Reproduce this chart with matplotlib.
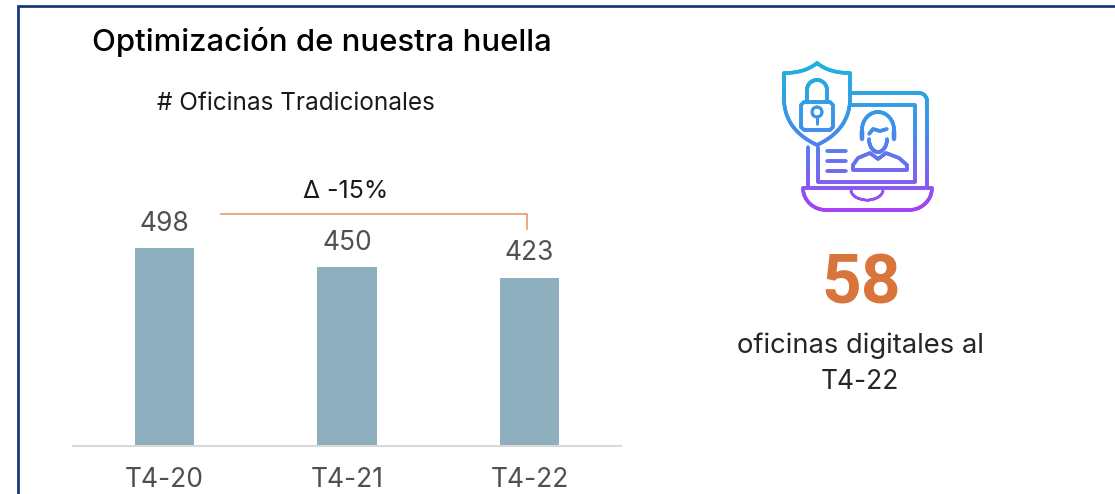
import numpy as np
import matplotlib
matplotlib.use("Agg")
import matplotlib.pyplot as plt
from matplotlib.collections import LineCollection

# DATA
periods = ["T4-20", "T4-21", "T4-22"]
offices = [498, 450, 423]
digital_offices = 58

W, H = 1115, 494
plt.rcParams['font.family'] = ['Inter', 'DejaVu Sans']


def arc(cx, cy, rx, ry, a0, a1, n=40):
    t = np.radians(np.linspace(a0, a1, n))
    return list(cx + rx * np.cos(t)), list(cy + ry * np.sin(t))


def bez(p0, c, p1, n=24):
    t = np.linspace(0, 1, n)
    x = (1 - t)**2 * p0[0] + 2 * t * (1 - t) * c[0] + t**2 * p1[0]
    y = (1 - t)**2 * p0[1] + 2 * t * (1 - t) * c[1] + t**2 * p1[1]
    return list(x), list(y)


def stroke(ax, xs, ys, lw=2.6):
    # vertical gradient blue -> purple, same as the icon in the slide
    xs = np.asarray(xs, float); ys = np.asarray(ys, float)
    px, py = [], []
    for i in range(len(xs) - 1):
        steps = max(2, int(np.hypot(xs[i+1] - xs[i], ys[i+1] - ys[i])) + 1)
        px += list(np.linspace(xs[i], xs[i+1], steps, endpoint=False))
        py += list(np.linspace(ys[i], ys[i+1], steps, endpoint=False))
    px.append(xs[-1]); py.append(ys[-1])
    pts = np.column_stack([px, py])
    segs = np.stack([pts[:-1], pts[1:]], axis=1)
    top = np.array([0.12, 0.70, 0.86]); mid = np.array([0.25, 0.56, 0.92]); bot = np.array([0.66, 0.25, 0.96])
    cols = []
    for y in (pts[:-1, 1] + pts[1:, 1]) / 2:
        f = np.clip((y - 63) / (212 - 63), 0, 1)
        cols.append(top + (mid - top) * f / 0.45 if f < 0.45 else mid + (bot - mid) * (f - 0.45) / 0.55)
    ax.add_collection(LineCollection(segs, colors=cols, linewidths=lw, capstyle='round', alpha=0.9))


def draw_icon(ax):
    # shield outline
    lx, ly = bez((784, 100), (785, 130), (817, 145))
    rx, ry = bez((817, 145), (849, 130), (850, 100))
    stroke(ax, [784] + lx + rx + [850], [73] + ly + ry + [73])
    tl_x, tl_y = bez((784, 73), (805, 73), (817, 63))
    tr_x, tr_y = bez((817, 63), (829, 73), (850, 73))
    stroke(ax, tl_x + tr_x, tl_y + tr_y)
    # padlock
    stroke(ax, [804, 830, 833, 833, 830, 804, 801, 801, 804], [102, 102, 105, 127, 130, 130, 127, 105, 102])
    sh_x, sh_y = arc(817, 90, 10, 10, 180, 360)
    stroke(ax, [807] + sh_x + [827], [102] + sh_y + [102])
    kx, ky = arc(817, 112, 5, 5, 0, 360)
    stroke(ax, kx, ky, lw=2.0)
    stroke(ax, [817, 817], [117, 124], lw=2.0)
    # laptop
    cx, cy = arc(919, 101, 8, 8, -90, 0, 12)
    stroke(ax, [851] + cx + [927, 927], [93] + cy + [101, 187])
    stroke(ax, [808, 808], [147, 187])
    stroke(ax, [851, 915, 915, 818, 818], [105, 105, 182, 182, 147])
    bl_x, bl_y = arc(826, 188, 23, 22, 180, 90, 14)
    br_x, br_y = arc(909, 188, 23, 22, 90, 0, 14)
    stroke(ax, [803] + bl_x + br_x + [932, 803], [188] + bl_y + br_y + [188, 188])
    n_x, n_y = arc(867, 190, 16, 10, 180, 0, 20)
    stroke(ax, n_x, n_y, lw=2.0)
    # text lines on the screen
    for y in [151, 161, 171]:
        stroke(ax, [827, 846], [y, y])
    # person
    hx, hy = arc(878, 130, 16, 18, 180, 360)
    stroke(ax, hx, hy)
    stroke(ax, [862, 862], [131, 139], lw=3.2)
    stroke(ax, [894, 894], [131, 139], lw=3.2)
    stroke(ax, [869, 873, 880, 887], [134, 129, 131, 129])
    fx, fy = arc(878, 139, 9, 13, 0, 180)
    stroke(ax, fx, fy)
    stroke(ax, [853, 853, 858, 870, 878, 886, 899, 907, 907, 853],
           [170, 165, 158, 153, 159, 153, 158, 165, 170, 170])


fig = plt.figure(figsize=(W / 100, H / 100), dpi=100, facecolor='white')

# bars, axes placed by the pixel box of the original plot area
ax = fig.add_axes([73 / W, 1 - 446 / H, (621 - 73) / W, 223 / H])
ax.bar(range(len(offices)), offices, width=0.323, color='#8eafbe')
ax.set_xlim(-0.5, 2.5); ax.set_ylim(0, 560)
ax.set_yticks([])
ax.set_xticks(range(len(periods)))
ax.set_xticklabels(periods, fontsize=19, color='#505050')
ax.tick_params(axis='x', length=0, pad=15)
for s in ['top', 'right', 'left']:
    ax.spines[s].set_visible(False)
ax.spines['bottom'].set_color('#d9d9d9'); ax.spines['bottom'].set_linewidth(1.5)
for i, v in enumerate(offices):
    ax.annotate(str(v), (i, v), xytext=(0, 8), textcoords='offset points', ha='center', va='bottom',
                fontsize=19, color='#505050')

# overlay in pixel coords for border, bracket, icon and texts
ov = fig.add_axes([0, 0, 1, 1], facecolor='none')
ov.set_xlim(0, W); ov.set_ylim(H, 0); ov.axis('off')
ov.plot([18, 18, W], [H, 6.5, 6.5], color='#1a3a7c', lw=2.0, solid_joinstyle='miter')
ov.plot([221, 527, 527], [214, 214, 229], color='#e89a70', lw=1.2)
draw_icon(ov)

ov.text(322, 42, "Optimización de nuestra huella", ha='center', va='center', fontsize=22.4, fontweight='medium', color='black')
ov.text(296, 103, "# Oficinas Tradicionales", ha='center', va='center', fontsize=17.5, color='#1a1a1a')
ov.text(346, 191, "Δ -15%", ha='center', va='center', fontsize=18, color='#1a1a1a')
ov.text(861, 285, str(digital_offices), ha='center', va='center', fontsize=50, fontweight='bold', color='#d9743b', family=['Roboto', 'DejaVu Sans'])
ov.text(860, 346, "oficinas digitales al", ha='center', va='center', fontsize=19.7, color='#262626')
ov.text(860, 382, "T4-22", ha='center', va='center', fontsize=19, color='#262626')

fig.savefig("out.png", dpi=100)
